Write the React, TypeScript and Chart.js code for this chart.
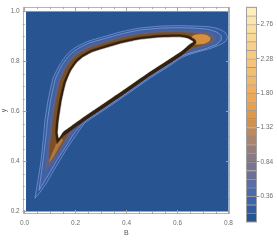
import React, { useEffect, useRef } from 'react';
import { Chart, registerables } from 'chart.js';
Chart.register(...registerables);

type P = [number, number];

// ---- axes / ticks ----
const xMajorTicks = [0, 0.2, 0.4, 0.6, 0.8];
const yMajorTicks = [0.2, 0.4, 0.6, 0.8, 1.0];
const minorStep = 0.05;
const xRange = [-0.007, 0.806];
const yRange = [0.19, 1.018];
const plotRegionX = [0.006, 0.8];
const plotRegionY = [0.2, 1.0];
const xTitle = 'B';
const yTitle = 'y';

// ---- colour bar ----
const contourLevels = [0, 0.12, 0.24, 0.36, 0.48, 0.6, 0.72, 0.84, 0.96, 1.08, 1.2, 1.32, 1.44, 1.56, 1.68, 1.8, 1.92, 2.04, 2.16, 2.28, 2.4, 2.52, 2.64, 2.76, 2.88, 3.0];
const colorbarTicks = [0.36, 0.84, 1.32, 1.8, 2.28, 2.76];
const bandColors = [
  'rgb(40,84,145)', 'rgb(50,92,158)', 'rgb(62,100,170)', 'rgb(75,108,172)', 'rgb(90,110,165)',
  'rgb(108,112,152)', 'rgb(122,116,142)', 'rgb(136,122,134)', 'rgb(152,126,122)', 'rgb(170,132,108)',
  'rgb(190,138,92)', 'rgb(208,145,80)', 'rgb(222,152,75)', 'rgb(230,160,80)', 'rgb(236,168,88)',
  'rgb(240,176,96)', 'rgb(242,184,104)', 'rgb(244,190,112)', 'rgb(245,196,120)', 'rgb(247,202,128)',
  'rgb(249,208,138)', 'rgb(250,215,148)', 'rgb(252,222,160)', 'rgb(253,230,172)', 'rgb(255,238,188)'
];

// ---- contour regions (B, y) ----
const contourOuter: P[] = [
  [0.041, 0.253], [0.053, 0.325], [0.065, 0.404], [0.073, 0.483], [0.076, 0.515], [0.080, 0.562], [0.092, 0.642],
  [0.112, 0.733], [0.141, 0.792], [0.173, 0.835], [0.205, 0.859], [0.248, 0.880], [0.311, 0.899], [0.377, 0.918],
  [0.449, 0.933], [0.531, 0.941], [0.610, 0.943], [0.669, 0.941], [0.720, 0.939], [0.759, 0.931], [0.786, 0.917],
  [0.796, 0.899], [0.790, 0.881], [0.767, 0.867], [0.727, 0.851], [0.680, 0.838], [0.641, 0.826], [0.610, 0.812],
  [0.571, 0.784], [0.492, 0.733], [0.414, 0.677], [0.324, 0.614], [0.237, 0.554], [0.202, 0.505], [0.163, 0.446],
  [0.124, 0.380], [0.088, 0.317], [0.061, 0.277]
];
const contourSecond: P[] = [
  [0.057, 0.285], [0.065, 0.345], [0.075, 0.424], [0.082, 0.483], [0.086, 0.515], [0.090, 0.562], [0.102, 0.642],
  [0.121, 0.730], [0.148, 0.787], [0.179, 0.828], [0.209, 0.851], [0.251, 0.873], [0.313, 0.891], [0.379, 0.910],
  [0.449, 0.925], [0.531, 0.933], [0.610, 0.935], [0.669, 0.933], [0.716, 0.929], [0.751, 0.919], [0.771, 0.903],
  [0.771, 0.885], [0.751, 0.867], [0.708, 0.850], [0.657, 0.836], [0.618, 0.822], [0.571, 0.790], [0.492, 0.739],
  [0.414, 0.683], [0.324, 0.620], [0.237, 0.560], [0.198, 0.517], [0.163, 0.461], [0.127, 0.404], [0.100, 0.356],
  [0.076, 0.317]
];
const contourMid: P[] = [
  [0.084, 0.364], [0.088, 0.424], [0.094, 0.483], [0.100, 0.515], [0.104, 0.562], [0.116, 0.642], [0.134, 0.725],
  [0.158, 0.779], [0.187, 0.819], [0.215, 0.841], [0.255, 0.862], [0.316, 0.880], [0.381, 0.899], [0.451, 0.913],
  [0.531, 0.921], [0.610, 0.923], [0.657, 0.921], [0.700, 0.919], [0.731, 0.913], [0.747, 0.901], [0.749, 0.887],
  [0.735, 0.873], [0.700, 0.859], [0.657, 0.847], [0.618, 0.826], [0.571, 0.794], [0.492, 0.743], [0.414, 0.687],
  [0.324, 0.624], [0.237, 0.564], [0.194, 0.527], [0.163, 0.479], [0.131, 0.428], [0.108, 0.392]
];
const contourBrown: P[] = [
  [0.096, 0.392], [0.100, 0.463], [0.108, 0.515], [0.112, 0.562], [0.124, 0.642], [0.141, 0.722], [0.164, 0.774],
  [0.192, 0.813], [0.219, 0.834], [0.258, 0.854], [0.318, 0.874], [0.382, 0.893], [0.451, 0.907], [0.531, 0.915],
  [0.610, 0.917], [0.649, 0.913], [0.688, 0.911], [0.716, 0.907], [0.731, 0.897], [0.733, 0.887], [0.720, 0.875],
  [0.688, 0.863], [0.657, 0.853], [0.618, 0.828], [0.571, 0.796], [0.492, 0.745], [0.414, 0.689], [0.324, 0.626],
  [0.237, 0.566], [0.178, 0.523], [0.155, 0.483], [0.131, 0.440], [0.108, 0.408]
];
const contourTail: P[] = [
  [0.131, 0.499], [0.122, 0.463], [0.104, 0.420], [0.096, 0.396], [0.112, 0.416], [0.131, 0.451], [0.151, 0.487]
];
const contourTip: P[] = [
  [0.649, 0.891], [0.665, 0.905], [0.692, 0.909], [0.716, 0.905], [0.729, 0.895], [0.725, 0.881], [0.704, 0.871],
  [0.673, 0.869], [0.653, 0.877]
];
const contourDark: P[] = [
  [0.127, 0.471], [0.122, 0.515], [0.125, 0.562], [0.137, 0.642], [0.154, 0.717], [0.175, 0.766], [0.200, 0.804],
  [0.225, 0.825], [0.261, 0.845], [0.321, 0.865], [0.384, 0.883], [0.452, 0.897], [0.531, 0.905], [0.610, 0.907],
  [0.644, 0.901], [0.669, 0.887], [0.673, 0.875], [0.649, 0.853], [0.618, 0.826], [0.571, 0.794], [0.492, 0.743],
  [0.414, 0.687], [0.324, 0.624], [0.237, 0.564], [0.178, 0.521], [0.151, 0.501]
];
const regionAbove: P[] = [
  [0.131, 0.515], [0.135, 0.562], [0.147, 0.642], [0.163, 0.713], [0.182, 0.760], [0.206, 0.796], [0.229, 0.816],
  [0.265, 0.836], [0.324, 0.855], [0.386, 0.873], [0.453, 0.887], [0.531, 0.895], [0.610, 0.897], [0.641, 0.891],
  [0.661, 0.879], [0.649, 0.871], [0.618, 0.844], [0.571, 0.812], [0.492, 0.760], [0.414, 0.705], [0.324, 0.642],
  [0.237, 0.582], [0.178, 0.539], [0.151, 0.519], [0.135, 0.495]
];

const FONT = "'Liberation Sans', Arial, sans-serif";

const isMajor = (v: number, arr: number[]) => arr.some((m) => Math.abs(m - v) < 1e-9);
const buildTicks = (majors: number[]) => {
  const out: number[] = [];
  for (let v = majors[0]; v <= majors[majors.length - 1] + 1e-9; v += minorStep) out.push(Math.round(v * 1000) / 1000);
  return out;
};
const xTickValues = buildTicks(xMajorTicks);
const yTickValues = buildTicks(yMajorTicks);

function poly(pts: P[], fill: string, order: number, border?: string, bw?: number) {
  const d = pts.map(([x, y]) => ({ x, y }));
  d.push({ ...d[0] });
  return {
    data: d,
    showLine: true,
    fill: 'shape',
    backgroundColor: fill,
    borderColor: border ?? fill,
    borderWidth: bw ?? 0.5,
    pointRadius: 0,
    pointHoverRadius: 0,
    tension: 0.15,
    order,
  };
}

const plotPlugin = {
  id: 'plotFrame',
  beforeDatasetsDraw(chart: any) {
    const { ctx, scales } = chart;
    const x = scales.x, y = scales.y;
    const l = x.getPixelForValue(plotRegionX[0]);
    const r = x.getPixelForValue(plotRegionX[1]);
    const t = y.getPixelForValue(plotRegionY[1]);
    const b = y.getPixelForValue(plotRegionY[0]);
    ctx.save();
    ctx.fillStyle = bandColors[0];
    ctx.fillRect(l, t, r - l, b - t);
    ctx.restore();
  },
  afterDraw(chart: any) {
    const { ctx, chartArea, scales } = chart;
    const { left, right, top, bottom } = chartArea;
    const x = scales.x, y = scales.y;
    ctx.save();
    ctx.strokeStyle = '#b4b4b4';
    ctx.lineWidth = 1;
    ctx.strokeRect(Math.round(left) + 0.5, Math.round(top) + 0.5, Math.round(right - left) - 1, Math.round(bottom - top) - 1);
    ctx.strokeStyle = '#a4a4a4';
    ctx.beginPath();
    for (const v of xTickValues) {
      const px = Math.round(x.getPixelForValue(v)) + 0.5;
      const len = isMajor(v, xMajorTicks) ? 4 : 2;
      ctx.moveTo(px, bottom); ctx.lineTo(px, bottom - len);
      ctx.moveTo(px, top); ctx.lineTo(px, top + len);
    }
    for (const v of yTickValues) {
      const py = Math.round(y.getPixelForValue(v)) + 0.5;
      const len = isMajor(v, yMajorTicks) ? 4 : 2;
      ctx.moveTo(left, py); ctx.lineTo(left + len, py);
      ctx.moveTo(right, py); ctx.lineTo(right - len, py);
    }
    ctx.stroke();
    ctx.restore();
  },
};

const barOutline = {
  id: 'barOutline',
  afterDatasetsDraw(chart: any) {
    const { ctx, chartArea } = chart;
    ctx.save();
    ctx.strokeStyle = '#a0a0a0';
    ctx.lineWidth = 1;
    ctx.strokeRect(chartArea.left, chartArea.top, chartArea.right - chartArea.left, chartArea.bottom - chartArea.top);
    ctx.restore();
  },
};

export default function App() {
  const mainRef = useRef<HTMLCanvasElement>(null);
  const barRef = useRef<HTMLCanvasElement>(null);

  useEffect(() => {
    const main = new Chart(mainRef.current as HTMLCanvasElement, {
      type: 'scatter',
      data: {
        datasets: [
          poly(regionAbove, '#ffffff', 0),
          poly(contourDark, '#33200e', 1),
          poly(contourTip, '#d4903f', 2),
          poly(contourTail, '#b07840', 3),
          poly(contourBrown, 'rgb(122,80,36)', 4),
          poly(contourMid, 'rgb(92,96,140)', 5, 'rgba(110,100,120,0.6)', 0.6),
          poly(contourSecond, 'rgb(62,98,164)', 6, 'rgba(145,168,225,0.85)', 0.8),
          poly(contourOuter, 'rgb(48,90,156)', 7, 'rgba(135,160,222,0.85)', 0.8),
        ] as any,
      },
      options: {
        responsive: false,
        animation: false,
        events: [],
        layout: { padding: { left: 0, right: 47, top: 5, bottom: 0 } },
        plugins: { legend: { display: false }, tooltip: { enabled: false } },
        scales: {
          x: {
            type: 'linear',
            min: xRange[0],
            max: xRange[1],
            grid: { display: false, drawTicks: false },
            border: { display: false },
            afterBuildTicks: (s: any) => { s.ticks = xTickValues.map((v) => ({ value: v })); },
            afterFit: (s: any) => { s.height = 28; },
            ticks: {
              autoSkip: false, maxRotation: 0, padding: 5, color: '#6e6e6e',
              font: { size: 6.5, family: FONT },
              callback: (v: any) => (isMajor(Number(v), xMajorTicks) ? Number(v).toFixed(1) : ''),
            },
            title: { display: true, text: xTitle, color: '#555', font: { size: 7, family: FONT }, padding: { top: 0, bottom: 5 } },
          },
          y: {
            type: 'linear',
            min: yRange[0],
            max: yRange[1],
            grid: { display: false, drawTicks: false },
            border: { display: false },
            afterBuildTicks: (s: any) => { s.ticks = yTickValues.map((v) => ({ value: v })); },
            afterFit: (s: any) => { s.width = 22.7; },
            ticks: {
              autoSkip: false, padding: 3, color: '#6e6e6e',
              font: { size: 6.5, family: FONT },
              callback: (v: any) => (isMajor(Number(v), yMajorTicks) ? Number(v).toFixed(1) : ''),
            },
            title: { display: true, text: yTitle, color: '#555', font: { size: 7, family: FONT }, padding: { top: 0, bottom: 0 } },
          },
        },
      } as any,
      plugins: [plotPlugin],
    });

    const bar = new Chart(barRef.current as HTMLCanvasElement, {
      type: 'bar',
      data: {
        labels: [''],
        datasets: bandColors.map((c, i) => ({
          data: [contourLevels[i + 1] - contourLevels[i]],
          backgroundColor: c,
          borderColor: 'rgba(70,50,30,0.45)',
          borderWidth: { top: 1, bottom: 0, left: 0, right: 0 },
          borderSkipped: false,
          barPercentage: 1,
          categoryPercentage: 1,
        })) as any,
      },
      options: {
        responsive: false,
        animation: false,
        events: [],
        layout: { padding: { left: 6.5, top: 7.3, bottom: 20, right: 0 } },
        plugins: { legend: { display: false }, tooltip: { enabled: false } },
        scales: {
          x: { display: false, stacked: true },
          y: {
            stacked: true,
            position: 'right',
            min: contourLevels[0],
            max: contourLevels[contourLevels.length - 1],
            afterBuildTicks: (s: any) => { s.ticks = colorbarTicks.map((v) => ({ value: v })); },
            afterFit: (s: any) => { s.width = 20.5; },
            grid: { drawOnChartArea: false, drawTicks: true, tickLength: 3, color: '#999' },
            border: { display: false },
            ticks: { padding: 1, color: '#6e6e6e', font: { size: 6.5, family: FONT }, callback: (v: any) => Number(v).toFixed(2) },
          },
        },
      } as any,
      plugins: [barOutline],
    });

    return () => { main.destroy(); bar.destroy(); };
  }, []);

  return (
    <div style={{ position: 'absolute', left: 0, top: 0, width: 277, height: 242 }}>
      <canvas ref={mainRef} width={277} height={242} style={{ position: 'absolute', left: 0, top: 0, width: 277, height: 242 }} />
      <canvas ref={barRef} width={37} height={242} style={{ position: 'absolute', left: 240, top: 0, width: 37, height: 242 }} />
    </div>
  );
}
